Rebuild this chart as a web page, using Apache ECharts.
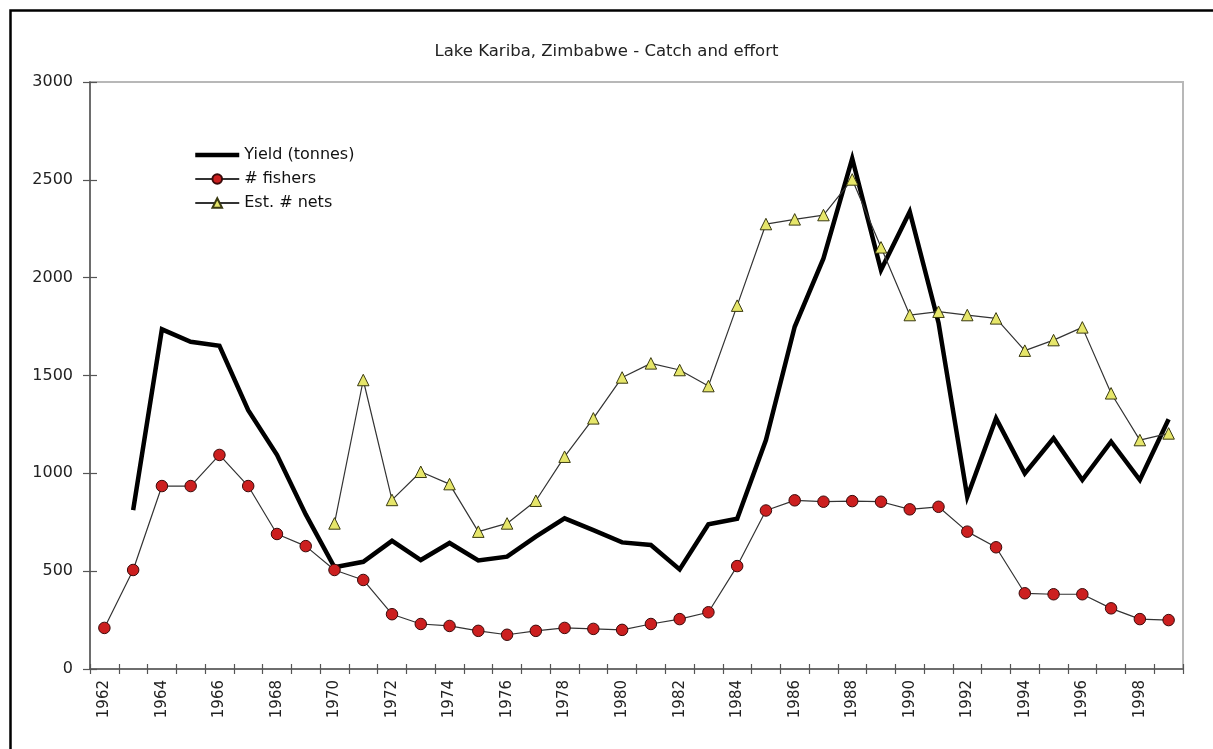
<!DOCTYPE html>
<html>
<head>
<meta charset="utf-8">
<script src="https://cdn.jsdelivr.net/npm/echarts@6/dist/echarts.min.js"></script>
<style>
html,body{margin:0;padding:0;background:#fff;}
#chart{width:1213px;height:749px;}
</style>
</head>
<body>
<div id="chart"></div>
<script>
var years = ['1962','1963','1964','1965','1966','1967','1968','1969','1970','1971','1972','1973','1974','1975','1976','1977','1978','1979','1980','1981','1982','1983','1984','1985','1986','1987','1988','1989','1990','1991','1992','1993','1994','1995','1996','1997','1998','1999'];
var yieldTonnes = [null,812,1736,1672,1652,1323,1095,790,520,548,655,557,644,555,574,676,770,710,647,634,509,740,768,1170,1749,2098,2609,2039,2337,1770,880,1281,1000,1179,966,1162,966,1276];
var fishers = [210,506,935,935,1094,935,690,628,506,455,280,230,220,195,175,195,210,205,200,230,255,290,526,810,862,855,858,855,816,829,702,622,387,382,382,310,255,250];
var nets = [null,null,null,null,null,null,null,null,744,1477,864,1008,945,702,744,860,1085,1281,1490,1562,1528,1446,1857,2274,2298,2320,2502,2155,1809,1826,1809,1792,1627,1681,1746,1409,1170,1204];
var yTicks = [0,500,1000,1500,2000,2500,3000];

var FONT = 'DejaVu Sans';
var chart = echarts.init(document.getElementById('chart'), null, {renderer:'canvas'});
var gridPos = {left:90, right:30, top:82, bottom:80};
chart.setOption({
  animation:false,
  backgroundColor:'#fff',
  title:{
    text:'Lake Kariba, Zimbabwe - Catch and effort',
    left:'center', top:38,
    textStyle:{fontFamily:FONT, fontSize:16.5, fontWeight:'normal', color:'#222'}
  },
  legend:{
    orient:'vertical', left:188, top:142,
    itemWidth:44, itemHeight:12, itemGap:8,
    textStyle:{fontFamily:FONT, fontSize:16, color:'#111'},
    data:[
      {name:'Yield (tonnes)', itemStyle:{color:'rgba(0,0,0,0)', borderWidth:0, borderColor:'rgba(0,0,0,0)'}, lineStyle:{width:4.5, color:'#000'}},
      {name:'# fishers'},
      {name:'Est. # nets'}
    ]
  },
  graphic:[{
    type:'rect', left:8, top:8, silent:true,
    shape:{x:0,y:0,width:1210,height:760},
    style:{fill:'none', stroke:'#000', lineWidth:2.5}
  }],
  grid:[
    Object.assign({show:true, borderColor:'#b8b8b8', borderWidth:2, backgroundColor:'#fff'}, gridPos),
    Object.assign({show:false}, gridPos)
  ],
  xAxis:[{
    type:'category', data:years, boundaryGap:true, gridIndex:0,
    axisLine:{lineStyle:{color:'#555', width:1.5}},
    axisTick:{show:true, interval:0, length:5, lineStyle:{color:'#555', width:1.2}},
    axisLabel:{interval:1, rotate:90, margin:11, fontFamily:FONT, fontSize:15, color:'#222'},
    splitLine:{show:false}
  },{
    type:'category', data:years, boundaryGap:true, gridIndex:1,
    axisLine:{show:false},
    axisTick:{show:true, inside:true, interval:0, length:5, lineStyle:{color:'#555', width:1.2}},
    axisLabel:{show:false}, splitLine:{show:false}
  }],
  yAxis:[{
    type:'value', min:0, max:3000, interval:500, gridIndex:0,
    axisLine:{show:true, lineStyle:{color:'#555', width:1.5}},
    axisTick:{show:true, length:7, lineStyle:{color:'#555', width:1.2}},
    axisLabel:{margin:17, fontFamily:FONT, fontSize:16, color:'#222',
      formatter:function(v){return yTicks.indexOf(v)>=0 ? String(v) : '';}},
    splitLine:{show:false}
  },{
    type:'value', min:0, max:3000, interval:500, gridIndex:1,
    axisLine:{show:false},
    axisTick:{show:true, inside:true, length:7, lineStyle:{color:'#555', width:1.2}},
    axisLabel:{show:false}, splitLine:{show:false}
  }],
  series:[{
    name:'Yield (tonnes)', type:'line', data:yieldTonnes,
    xAxisIndex:0, yAxisIndex:0,
    symbol:'none', connectNulls:false,
    lineStyle:{color:'#000', width:4.5, join:'miter'},
    itemStyle:{color:'#000'}, z:2
  },{
    name:'# fishers', type:'line', data:fishers,
    xAxisIndex:0, yAxisIndex:0,
    symbol:'circle', symbolSize:11.5, showAllSymbol:true,
    lineStyle:{color:'#333', width:1.2},
    itemStyle:{color:'#cc1f1f', borderColor:'#3a0a0a', borderWidth:1}, z:3
  },{
    name:'Est. # nets', type:'line', data:nets,
    xAxisIndex:0, yAxisIndex:0,
    symbol:'triangle', symbolSize:11.5, showAllSymbol:true,
    lineStyle:{color:'#333', width:1.2},
    itemStyle:{color:'#e6e66a', borderColor:'#3a3a10', borderWidth:1}, z:4
  }]
});
</script>
</body>
</html>
